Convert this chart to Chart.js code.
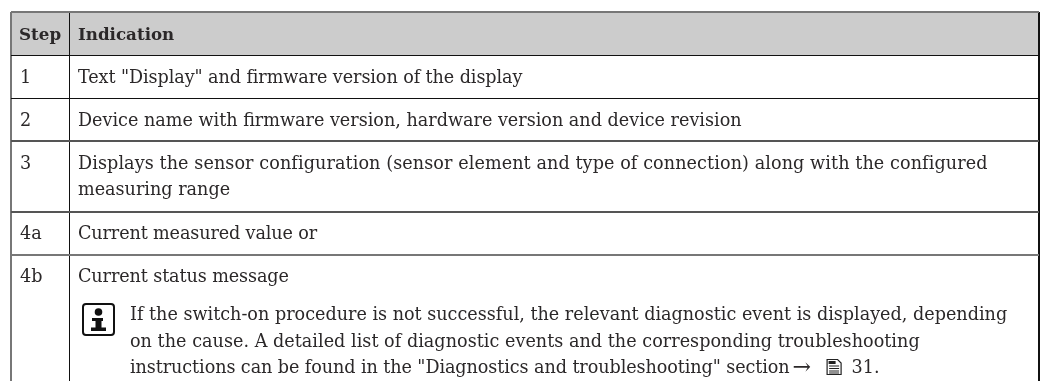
<!DOCTYPE html>
<html>
<head>
<meta charset="utf-8">
<style>
  html, body { margin: 0; padding: 0; background: #fff; }
  canvas { display: block; }
</style>
<script src="https://cdn.jsdelivr.net/npm/chart.js@4"></script>
</head>
<body>
<canvas id="table-chart" width="1045" height="381"></canvas>
<script>
// table content
const headers = ['Step', 'Indication'];
const steps = ['1', '2', '3', '4a', '4b'];
const indications = [
  ['Text "Display" and firmware version of the display'],
  ['Device name with firmware version, hardware version and device revision'],
  ['Displays the sensor configuration (sensor element and type of connection) along with the configured', 'measuring range'],
  ['Current measured value or'],
  ['Current status message']
];
const noteLines = [
  'If the switch-on procedure is not successful, the relevant diagnostic event is displayed, depending',
  'on the cause. A detailed list of diagnostic events and the corresponding troubleshooting',
  'instructions can be found in the "Diagnostics and troubleshooting" section'
];
const noteArrow = '→';
const notePage = '31.';

const FONT = '"DejaVu Serif"';
const FONT_SIZE = 17.6;
const HEAD_SIZE = 16.7;
const ARROW_SIZE = 22;
const LINE_H = 27.5;
const TEXT_LEAD = 26.5;
const ROW_PAD = 15.5;
const STEP_W = 58;
const TABLE_W = 1028;
const RULE_GREY = '#777777';
const RULE_DARK = '#111111';
const RULE_SOFT = '#555555';
const INK = '#2b2829';

// the reference font runs a little wider or narrower line by line
const rowTracking = [-0.08, 0, 0.09, -0.12, -0.1];
const noteTracking = [0, 0.03, -0.08];

// row boundaries follow from how many lines each row holds, the last row runs off the page
const rowEdges = [0, LINE_H + ROW_PAD];
indications.slice(0, -1).forEach(lines => {
  rowEdges.push(rowEdges[rowEdges.length - 1] + lines.length * LINE_H + ROW_PAD);
});

const drawInfoIcon = (ctx, left, top) => {
  ctx.save();
  ctx.strokeStyle = '#111';
  ctx.lineWidth = 2;
  ctx.beginPath();
  ctx.roundRect(left, top, 31, 31, 3);
  ctx.stroke();
  ctx.fillStyle = '#111';
  ctx.beginPath();
  ctx.arc(left + 15.5, top + 8, 3.8, 0, Math.PI * 2);
  ctx.fill();
  ctx.fillRect(left + 9, top + 14, 11, 3);
  ctx.fillRect(left + 12.5, top + 14, 6, 12);
  ctx.fillRect(left + 8, top + 23.5, 15, 3.5);
  ctx.restore();
};

const drawPageIcon = (ctx, left, top) => {
  ctx.save();
  ctx.strokeStyle = '#222';
  ctx.lineWidth = 1.2;
  ctx.beginPath();
  ctx.moveTo(left + 0.5, top + 0.5);
  ctx.lineTo(left + 11, top + 0.5);
  ctx.lineTo(left + 14.5, top + 4);
  ctx.lineTo(left + 14.5, top + 15.5);
  ctx.lineTo(left + 0.5, top + 15.5);
  ctx.closePath();
  ctx.stroke();
  ctx.fillStyle = '#222';
  ctx.fillRect(left + 2, top + 2, 7, 3);
  [6.5, 9, 11.5, 13.5].forEach(dy => ctx.fillRect(left + 2.5, top + dy, 10, 1));
  ctx.restore();
};

const tableText = {
  id: 'tableText',
  beforeDatasetsDraw(chart) {
    const { ctx, scales: { x, y } } = chart;
    ctx.save();
    ctx.fillStyle = INK;
    ctx.textBaseline = 'alphabetic';
    ctx.fontStretch = 'condensed';
    const base = i => y.getPixelForValue(rowEdges[i]) + 27.5;
    const stepX = x.getPixelForValue(0) + 8;
    const textX = x.getPixelForValue(STEP_W) + 9;
    ctx.font = `bold ${HEAD_SIZE}px ${FONT}`;
    ctx.fillText(headers[0], stepX, base(0));
    ctx.fillText(headers[1], textX, base(0));
    ctx.font = `${FONT_SIZE}px ${FONT}`;
    steps.forEach((s, i) => {
      ctx.letterSpacing = '0px';
      ctx.fillText(s, stepX + 1, base(i + 1));
      indications[i].forEach((line, j) => {
        ctx.letterSpacing = `${j === 0 ? rowTracking[i] : 0}px`;
        ctx.fillText(line, textX, base(i + 1) + j * TEXT_LEAD);
      });
    });
    const noteX = textX + 52;
    const noteBase = base(5) + 38;
    noteLines.forEach((line, j) => {
      ctx.letterSpacing = `${noteTracking[j]}px`;
      ctx.fillText(line, noteX, noteBase + j * TEXT_LEAD);
    });
    const lastBase = noteBase + 2 * TEXT_LEAD;
    const lineEnd = noteX + ctx.measureText(noteLines[2]).width;
    ctx.letterSpacing = '0px';
    ctx.fillText(notePage, lineEnd + 62, lastBase);
    ctx.font = `${ARROW_SIZE}px ${FONT}`;
    ctx.fillText(noteArrow, lineEnd + 3, lastBase + 1);
    drawPageIcon(ctx, lineEnd + 37, lastBase - 14);
    drawInfoIcon(ctx, textX + 5, noteBase - 16);
    ctx.restore();
  }
};

const headerFill = {
  id: 'headerFill',
  beforeDraw(chart) {
    const { ctx, chartArea, scales: { y } } = chart;
    ctx.save();
    ctx.fillStyle = '#cccccc';
    ctx.fillRect(chartArea.left, y.getPixelForValue(0), chartArea.width, y.getPixelForValue(rowEdges[1]) - y.getPixelForValue(0));
    ctx.restore();
  }
};

const chart = new Chart(document.getElementById('table-chart'), {
  type: 'scatter',
  data: { datasets: [] },
  options: {
    responsive: false,
    animation: false,
    layout: { padding: { left: 11, top: 12, right: 6, bottom: 0 } },
    plugins: { legend: { display: false }, tooltip: { enabled: false } },
    scales: {
      x: {
        type: 'linear', min: 0, max: TABLE_W,
        afterBuildTicks: axis => { axis.ticks = [0, STEP_W, TABLE_W].map(value => ({ value })); },
        ticks: { display: false },
        border: { display: false },
        grid: {
          drawTicks: false,
          color: c => (c.index === 0 ? RULE_GREY : RULE_DARK),
          lineWidth: c => (c.index === 1 ? 1 : 2)
        }
      },
      y: {
        type: 'linear', min: 0, max: 369, reverse: true,
        afterBuildTicks: axis => { axis.ticks = rowEdges.map(value => ({ value })); },
        ticks: { display: false },
        border: { display: false },
        grid: {
          drawTicks: false,
          color: c => {
            if (c.index === 0 || c.index === 5) return RULE_GREY;
            return c.index > 2 ? RULE_SOFT : RULE_DARK;
          },
          lineWidth: c => (c.index === 1 || c.index === 2 ? 1 : 2)
        }
      }
    }
  },
  plugins: [headerFill, tableText]
});
</script>
</body>
</html>
